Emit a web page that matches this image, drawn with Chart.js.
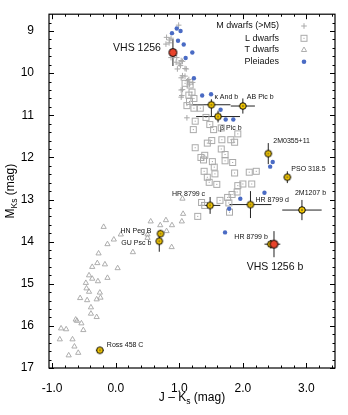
<!DOCTYPE html>
<html>
<head>
<meta charset="utf-8">
<script src="https://cdn.jsdelivr.net/npm/chart.js@4.4.0/dist/chart.umd.min.js"></script>
<style>
html, body { margin: 0; padding: 0; background: #fff; }
</style>
</head>
<body>
<canvas id="myChart" width="348" height="415"></canvas>
<script>
// J-Ks colour and Ks absolute magnitude of each sample
const mDwarfJK = [0.99, 0.80, 0.87, 0.85, 0.79, 0.84, 0.87, 0.96, 0.95, 1.03, 1.02, 1.00, 1.05, 0.97, 1.11, 1.09, 1.05, 1.09, 1.03, 1.13, 1.21, 1.16, 1.15, 1.03, 1.05, 1.04, 1.03, 1.12, 0.92];
const mDwarfMK = [8.86, 9.15, 9.17, 9.21, 9.31, 9.28, 9.63, 9.63, 9.74, 9.70, 9.82, 9.78, 9.72, 9.90, 9.90, 9.89, 10.06, 10.07, 10.11, 10.18, 10.22, 10.26, 10.15, 10.40, 10.39, 10.53, 10.57, 11.06, 9.58];

const lDwarfJK = [1.09, 1.17, 1.20, 1.15, 1.23, 1.16, 1.12, 1.23, 1.33, 1.42, 1.25, 1.22, 1.48, 1.54, 1.66, 1.92, 1.51, 1.44, 1.67, 1.81, 1.87, 1.25, 1.66, 1.40, 1.34, 1.38, 1.52, 1.72, 1.72, 1.84, 1.55, 1.39, 1.44, 1.56, 1.47, 1.59, 1.87, 2.10, 2.21, 1.92, 2.00, 2.14, 1.91, 1.83, 1.76, 1.64, 1.78, 1.79, 1.35, 1.40, 1.29];
const lDwarfMK = [10.24, 10.28, 10.45, 10.52, 10.60, 10.67, 10.77, 10.83, 10.83, 11.05, 11.14, 11.34, 11.22, 11.34, 11.30, 11.44, 11.60, 11.66, 11.58, 11.58, 11.64, 11.77, 11.80, 11.95, 12.00, 12.06, 12.10, 11.93, 12.08, 12.12, 12.23, 12.33, 12.47, 12.39, 12.59, 12.64, 12.37, 12.35, 12.33, 12.67, 12.63, 12.63, 12.82, 12.88, 12.95, 13.02, 13.08, 13.30, 13.07, 13.14, 13.40];

const tDwarfJK = [1.05, 1.06, 1.04, 0.885, 0.79, 0.70, 0.55, -0.19, 0.08, 0.50, 0.50, 0.80, -0.03, -0.13, 0.27, 0.88, -0.27, -0.17, -0.29, -0.37, 0.03, -0.42, -0.37, -0.28, -0.13, -0.47, -0.46, -0.42, -0.25, -0.24, -0.30, -0.56, -0.45, -0.39, -0.39, -0.30, -0.63, -0.61, -0.54, -0.51, -0.86, -0.78, -0.88, -0.68, -0.65, -0.74, -0.59];
const tDwarfMK = [12.98, 13.34, 13.52, 13.61, 13.49, 13.61, 13.52, 13.65, 13.83, 13.83, 13.91, 13.75, 13.95, 14.06, 14.25, 14.13, 14.28, 14.54, 14.51, 14.60, 14.63, 14.80, 14.88, 14.94, 14.86, 14.98, 15.11, 15.19, 15.21, 15.33, 15.37, 15.34, 15.39, 15.56, 15.71, 15.79, 15.85, 15.88, 15.94, 16.10, 16.06, 16.08, 16.32, 16.32, 16.49, 16.70, 16.64];

const pleiadesJK = [0.885, 0.96, 1.02, 0.98, 1.07, 1.205, 1.10, 1.23, 1.36, 1.50, 1.65, 1.73, 1.85, 2.47, 2.43, 2.34, 1.96, 1.785, 1.72];
const pleiadesMK = [9.05, 8.94, 9.00, 9.23, 9.32, 9.51, 9.64, 10.12, 10.53, 10.50, 10.87, 11.10, 11.10, 12.11, 12.22, 12.84, 12.98, 13.22, 13.78];

// named young objects with error bars
const namedNames = ['VHS 1256', 'κ And b', 'AB Pic b', 'β Pic b', '2M0355+11', 'PSO 318.5', '2M1207 b', 'HR 8799 d', 'HR 8799 c', 'HN Peg B', 'GU Psc b', 'Ross 458 C', 'HR 8799 b', 'VHS 1256 b'];
const namedJK = [0.90, 1.505, 2.00, 1.61, 2.40, 2.70, 2.93, 2.12, 1.485, 0.705, 0.685, -0.25, 2.44, 2.49];
const namedMK = [9.51, 10.75, 10.78, 11.03, 11.91, 12.47, 13.25, 13.12, 13.14, 13.81, 13.99, 16.58, 14.06, 14.06];
const namedJKErr = [0.0, 0.30, 0.19, 0.345, 0.05, 0.05, 0.31, 0.33, 0.16, 0.03, 0.03, 0.06, 0.10, 0.10];
const namedMKErrUp = [0.32, 0.13, 0.18, 0.14, 0.25, 0.14, 0.24, 0.32, 0.20, 0.08, 0.25, 0.04, 0.10, 0.31];
const namedMKErrDown = [0.32, 0.27, 0.18, 0.14, 0.25, 0.14, 0.24, 0.32, 0.20, 0.08, 0.25, 0.04, 0.10, 0.31];

const xTickValues = [-1, 0, 1, 2, 3];
const yTickValues = [9, 10, 11, 12, 13, 14, 15, 16, 17];
const legendLabels = ['M dwarfs (>M5)', 'L dwarfs', 'T dwarfs', 'Pleiades'];

const FONT = '"Liberation Sans", Arial, Helvetica, sans-serif';

// where each name sits relative to its point (pixels)
const labelStyle = {
    'VHS 1256': { dx: -12, dy: -4, align: 'right', size: 10.5 },
    'κ And b': { dx: 3, dy: -8, align: 'left', size: 7 },
    'AB Pic b': { dx: 4, dy: -9, align: 'left', size: 7 },
    'β Pic b': { dx: 2, dy: 12, align: 'left', size: 7 },
    '2M0355+11': { dx: 5, dy: -13, align: 'left', size: 7 },
    'PSO 318.5': { dx: 4, dy: -8, align: 'left', size: 7 },
    '2M1207 b': { dx: -7, dy: -17, align: 'left', size: 7 },
    'HR 8799 d': { dx: 5, dy: -5, align: 'left', size: 7 },
    'HR 8799 c': { dx: -5, dy: -11, align: 'right', size: 7 },
    'HN Peg B': { dx: -9, dy: -3, align: 'right', size: 7 },
    'GU Psc b': { dx: -8, dy: 2, align: 'right', size: 7 },
    'Ross 458 C': { dx: 7, dy: -5, align: 'left', size: 7 },
    'HR 8799 b': { dx: -3, dy: -7, align: 'right', size: 7 },
    'VHS 1256 b': { dx: 1, dy: 23, align: 'center', size: 10.5 }
};

function makeMarker(r, fill, dot) {
    const c = document.createElement('canvas');
    const s = Math.ceil(r * 2 + 3);
    c.width = s; c.height = s;
    const g = c.getContext('2d');
    g.beginPath();
    g.arc(s / 2, s / 2, r, 0, Math.PI * 2);
    g.fillStyle = fill;
    g.fill();
    g.lineWidth = 1;
    g.strokeStyle = '#000';
    g.stroke();
    if (dot) {
        g.beginPath();
        g.arc(s / 2, s / 2, 0.8, 0, Math.PI * 2);
        g.fillStyle = '#333';
        g.fill();
    }
    return c;
}

function makeSquare() {
    const c = document.createElement('canvas');
    c.width = 9; c.height = 9;
    const g = c.getContext('2d');
    g.strokeStyle = '#aaaaaa';
    g.lineWidth = 1;
    g.strokeRect(1.5, 1.5, 6, 6);
    g.fillStyle = '#999999';
    g.fillRect(4, 4, 1, 1);
    return c;
}

const yellowMarker = makeMarker(3.3, '#f6c900', true);
const redMarker = makeMarker(4.0, '#e8432b', false);
const squareMarker = makeSquare();

const toPoints = (xs, ys) => xs.map((v, i) => ({ x: v, y: ys[i] }));

// error bars under the markers
const errorBars = {
    id: 'errorBars',
    beforeDatasetsDraw(chart) {
        const { ctx, scales: { x, y } } = chart;
        ctx.save();
        ctx.strokeStyle = '#222';
        ctx.lineWidth = 1;
        namedJK.forEach((v, i) => {
            const px = x.getPixelForValue(v);
            const py = y.getPixelForValue(namedMK[i]);
            ctx.beginPath();
            if (namedJKErr[i] > 0) {
                ctx.moveTo(x.getPixelForValue(v - namedJKErr[i]), py);
                ctx.lineTo(x.getPixelForValue(v + namedJKErr[i]), py);
            }
            ctx.moveTo(px, y.getPixelForValue(namedMK[i] - namedMKErrUp[i]));
            ctx.lineTo(px, y.getPixelForValue(namedMK[i] + namedMKErrDown[i]));
            ctx.stroke();
        });
        ctx.restore();
    }
};

// frame, inward ticks, names, legend, axis titles
const decorations = {
    id: 'decorations',
    afterDraw(chart) {
        const { ctx, chartArea: a, scales: { x, y } } = chart;
        ctx.save();
        ctx.strokeStyle = '#000';
        ctx.lineWidth = 1.2;
        ctx.strokeRect(a.left, a.top, a.right - a.left, a.bottom - a.top);

        ctx.lineWidth = 1;
        ctx.beginPath();
        for (let i = -5; i <= 17; i++) {
            const px = Math.round(x.getPixelForValue(i * 0.2)) + 0.5;
            const len = i % 5 === 0 ? 5 : 2.5;
            ctx.moveTo(px, a.bottom); ctx.lineTo(px, a.bottom - len);
            ctx.moveTo(px, a.top); ctx.lineTo(px, a.top + len);
        }
        for (let i = 44; i <= 85; i++) {
            const py = Math.round(y.getPixelForValue(i * 0.2)) + 0.5;
            const len = i % 5 === 0 ? 5 : 2.5;
            ctx.moveTo(a.left, py); ctx.lineTo(a.left + len, py);
            ctx.moveTo(a.right, py); ctx.lineTo(a.right - len, py);
        }
        ctx.stroke();

        // object names
        ctx.fillStyle = '#111';
        ctx.textBaseline = 'middle';
        namedNames.forEach((name, i) => {
            const st = labelStyle[name];
            ctx.font = st.size + 'px ' + FONT;
            ctx.textAlign = st.align;
            ctx.fillText(name, x.getPixelForValue(namedJK[i]) + st.dx, y.getPixelForValue(namedMK[i]) + st.dy);
        });

        // legend
        const lx = a.right - 56, mx = a.right - 31;
        const rows = [26, 38.3, 50, 61.7];
        ctx.font = '9px ' + FONT;
        ctx.textAlign = 'right';
        ctx.fillStyle = '#111';
        legendLabels.forEach((t, i) => ctx.fillText(t, lx, rows[i]));
        ctx.strokeStyle = '#aaa';
        ctx.lineWidth = 1;
        ctx.beginPath();
        ctx.moveTo(mx - 2.8, rows[0]); ctx.lineTo(mx + 2.8, rows[0]);
        ctx.moveTo(mx, rows[0] - 2.8); ctx.lineTo(mx, rows[0] + 2.8);
        ctx.stroke();
        ctx.drawImage(squareMarker, mx - 4.5, rows[1] - 4.5);
        ctx.strokeStyle = '#a5a5a5';
        ctx.lineWidth = 0.9;
        ctx.beginPath();
        ctx.moveTo(mx, rows[2] - 3);
        ctx.lineTo(mx + 2.6, rows[2] + 1.5);
        ctx.lineTo(mx - 2.6, rows[2] + 1.5);
        ctx.closePath();
        ctx.stroke();
        ctx.fillStyle = '#4a6bc4';
        ctx.beginPath();
        ctx.arc(mx, rows[3], 2.3, 0, Math.PI * 2);
        ctx.fill();

        // axis titles with subscripts
        ctx.fillStyle = '#000';
        ctx.textAlign = 'left';
        ctx.textBaseline = 'alphabetic';
        const big = '12px ' + FONT, small = '8.5px ' + FONT;
        function drawTitle(parts, cx, cy) {
            let w = 0;
            parts.forEach(p => { ctx.font = p[1] ? small : big; w += ctx.measureText(p[0]).width; });
            let px = cx - w / 2;
            parts.forEach(p => {
                ctx.font = p[1] ? small : big;
                ctx.fillText(p[0], px, cy + (p[1] ? 3 : 0));
                px += ctx.measureText(p[0]).width;
            });
        }
        drawTitle([['J \u2013 K', false], ['s', true], [' (mag)', false]], (a.left + a.right) / 2, 401);
        ctx.save();
        ctx.translate(14, (a.top + a.bottom) / 2);
        ctx.rotate(-Math.PI / 2);
        drawTitle([['M', false], ['Ks', true], [' (mag)', false]], 0, 0);
        ctx.restore();
        ctx.restore();
    }
};

const ctx = document.getElementById('myChart').getContext('2d');
const chart = new Chart(ctx, {
    type: 'scatter',
    data: {
        datasets: [{
            label: 'Named objects',
            data: toPoints(namedJK, namedMK),
            pointStyle: namedNames.map(n => n.startsWith('VHS 1256') ? redMarker : yellowMarker),
            order: 0
        }, {
            label: 'Pleiades',
            data: toPoints(pleiadesJK, pleiadesMK),
            pointStyle: 'circle',
            radius: 2.2,
            backgroundColor: '#4a6bc4',
            borderWidth: 0,
            order: 1
        }, {
            label: 'M dwarfs (>M5)',
            data: toPoints(mDwarfJK, mDwarfMK),
            pointStyle: 'cross',
            radius: 2.8,
            borderColor: '#aaaaaa',
            borderWidth: 1,
            order: 2
        }, {
            label: 'L dwarfs',
            data: toPoints(lDwarfJK, lDwarfMK),
            pointStyle: squareMarker,
            order: 3
        }, {
            label: 'T dwarfs',
            data: toPoints(tDwarfJK, tDwarfMK),
            pointStyle: 'triangle',
            radius: 3,
            borderColor: '#a5a5a5',
            backgroundColor: 'rgba(0,0,0,0)',
            borderWidth: 0.9,
            order: 4
        }]
    },
    options: {
        responsive: false,
        animation: false,
        devicePixelRatio: 1,
        layout: { padding: { top: 14, right: 13, left: 0, bottom: 0 } },
        plugins: {
            legend: { display: false },
            tooltip: { enabled: false }
        },
        scales: {
            x: {
                type: 'linear',
                min: -1.05,
                max: 3.45,
                grid: { display: false },
                border: { display: false },
                afterBuildTicks: s => { s.ticks = xTickValues.map(v => ({ value: v })); },
                afterFit: s => { s.height = 47; },
                ticks: {
                    autoSkip: false,
                    maxRotation: 0,
                    padding: 5,
                    color: '#000',
                    font: { size: 12, family: FONT },
                    callback: v => v.toFixed(1)
                }
            },
            y: {
                type: 'linear',
                reverse: true,
                min: 8.6,
                max: 17,
                grid: { display: false },
                border: { display: false },
                afterBuildTicks: s => { s.ticks = yTickValues.map(v => ({ value: v })); },
                afterFit: s => { s.width = 49; },
                ticks: {
                    autoSkip: false,
                    padding: 7,
                    color: '#000',
                    font: { size: 12, family: FONT },
                    callback: v => String(v)
                }
            }
        }
    },
    plugins: [errorBars, decorations]
});
</script>
</body>
</html>
